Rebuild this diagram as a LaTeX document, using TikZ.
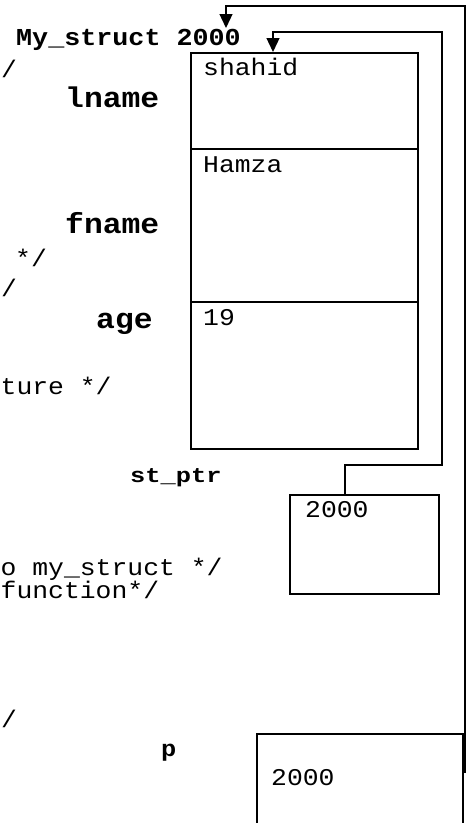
\documentclass[tikz,border=0pt]{standalone}
\usepackage{fontspec}
\usepackage{graphicx}
\usetikzlibrary{arrows.meta}
\newfontfamily\cour[FakeStretch=1.1]{Liberation Mono}

\tikzset{
  txt/.style={anchor=base west, inner sep=0pt,
    font=\cour\fontsize{24bp}{28bp}\selectfont},
  lbl/.style={anchor=base west, inner sep=0pt,
    font=\cour\bfseries\fontsize{28.5bp}{32bp}\selectfont},
  hdr/.style={anchor=base west, inner sep=0pt,
    font=\cour\bfseries\fontsize{24.3bp}{28bp}\selectfont},
  smlbl/.style={anchor=base west, inner sep=0pt,
    font=\cour\bfseries\fontsize{23bp}{26bp}\selectfont},
  cell/.style={draw, line width=2bp, minimum width=227bp, inner sep=0pt, anchor=north west},
  box/.style={draw, line width=2bp, inner sep=0pt, anchor=north west},
  link/.style={line width=1.3bp, -{Triangle[length=14bp,width=13bp]}},
}

\begin{document}
\begin{tikzpicture}[x=1bp,y=-1bp]
  \useasboundingbox (0,0) rectangle (466,823);
  \clip (0,0) rectangle (466,823);

  % structure in memory: three stacked members
  \node[cell, minimum height=96bp]  (c1) at (190,52)  {};
  \node[cell, minimum height=153bp] (c2) at (190,148) {};
  \node[cell, minimum height=147bp] (c3) at (190,301) {};

  % pointer variables
  \node[box, minimum width=149bp, minimum height=99bp]  (sp) at (289,494) {};
  \node[box, minimum width=206bp, minimum height=110bp] (pb) at (256,733) {};

  % member values
  \node[txt] (v1) at (203,75)  {shahid};
  \node[txt] (v2) at (203,172) {Hamza};
  \node[txt] (v3) at (203,325) {19};
  \node[txt] (v4) at (305,517) {2000};
  \node[txt] (v5) at (271,785) {2000};

  % labels
  \node[hdr] (ms) at (16,45) {My\_struct 2000};
  \node[lbl] (l1) at (65,107) {lname};
  \node[lbl] (l2) at (65,233) {fname};
  \node[lbl] (l3) at (96,328) {age};
  \node[anchor=base west, inner sep=0pt] (l4) at (130,482)
    {\scalebox{1.1}[1]{\cour\bfseries\fontsize{21bp}{24bp}\selectfont st\_ptr}};
  \node[smlbl] (l5) at (161,756) {p};

  % code fragments along the left edge
  \node[txt] (k1) at (1,77)  {/};
  \node[txt] (k2) at (15,266) {*/};
  \node[txt] (k3) at (1,296) {/};
  \node[txt] (k4) at (0.5,394) {ture */};
  \node[txt] (k5) at (0.5,575) {o my\_struct */};
  \node[txt] (k6) at (0.5,598) {function*/};
  \node[txt] (k7) at (1,727) {/};

  % arrows
  \coordinate (ptail) at (465,773);
  \coordinate (mstip) at (226,28);
  \draw[link] ([xshift=56bp]sp.north west) |- (442,465) -- (442,32)
    -| ([xshift=83bp]c1.north west);
  \draw[link] (ptail) -- (465,6) -| (mstip);
\end{tikzpicture}
\end{document}
